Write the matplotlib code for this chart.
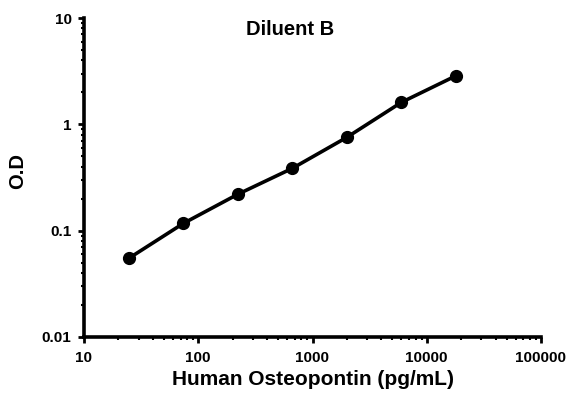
import matplotlib
matplotlib.use("Agg")
import matplotlib.pyplot as plt
from matplotlib.ticker import LogLocator, FixedFormatter, FixedLocator

concentration = [24.7, 74, 222, 667, 2000, 6000, 18000]
od_values = [0.055, 0.117, 0.22, 0.386, 0.755, 1.61, 2.86]
x_ticks = [10, 100, 1000, 10000, 100000]
x_tick_labels = ["10", "100", "1000", "10000", "100000"]
y_ticks = [0.01, 0.1, 1, 10]
y_tick_labels = ["0.01", "0.1", "1", "10"]

plt.rcParams['font.family'] = ['Liberation Sans', 'DejaVu Sans']

fig = plt.figure(figsize=(5.79, 3.98), dpi=100)
ax = fig.add_axes([84/579, 61/398, (541-84)/579, (337-18)/398])

ax.plot(concentration, od_values, color='black', lw=2.6, marker='o', ms=8.5)
ax.set_xscale('log')
ax.set_yscale('log')
ax.set_xlim(10, 100000)
ax.set_ylim(0.01, 10)

ax.xaxis.set_major_locator(FixedLocator(x_ticks))
ax.xaxis.set_major_formatter(FixedFormatter(x_tick_labels))
ax.yaxis.set_major_locator(FixedLocator(y_ticks))
ax.yaxis.set_major_formatter(FixedFormatter(y_tick_labels))
ax.xaxis.set_minor_locator(LogLocator(base=10, subs=range(2, 10)))
ax.yaxis.set_minor_locator(LogLocator(base=10, subs=range(2, 10)))
ax.xaxis.set_minor_formatter(FixedFormatter([]))
ax.yaxis.set_minor_formatter(FixedFormatter([]))

for s in ['top', 'right']:
    ax.spines[s].set_visible(False)
for s in ['left', 'bottom']:
    ax.spines[s].set_linewidth(2.6)

ax.tick_params(which='major', direction='out', length=4, width=2, labelsize=11)
ax.tick_params(axis='x', which='major', pad=6)
ax.tick_params(axis='y', which='major', pad=5)
ax.tick_params(which='minor', direction='out', length=2.5, width=1.5)
for lbl in ax.get_xticklabels() + ax.get_yticklabels():
    lbl.set_fontweight('bold')

ax.set_xlabel('Human Osteopontin (pg/mL)', fontsize=15, fontweight='bold', labelpad=4)
ax.set_ylabel('O.D', fontsize=14.5, fontweight='bold')
ax.yaxis.set_label_coords(-0.125, 0.52)
ax.text(0.451, 0.994, 'Diluent B', transform=ax.transAxes, ha='center', va='top',
        fontsize=14.5, fontweight='bold')

fig.savefig('out.png', dpi=100)
